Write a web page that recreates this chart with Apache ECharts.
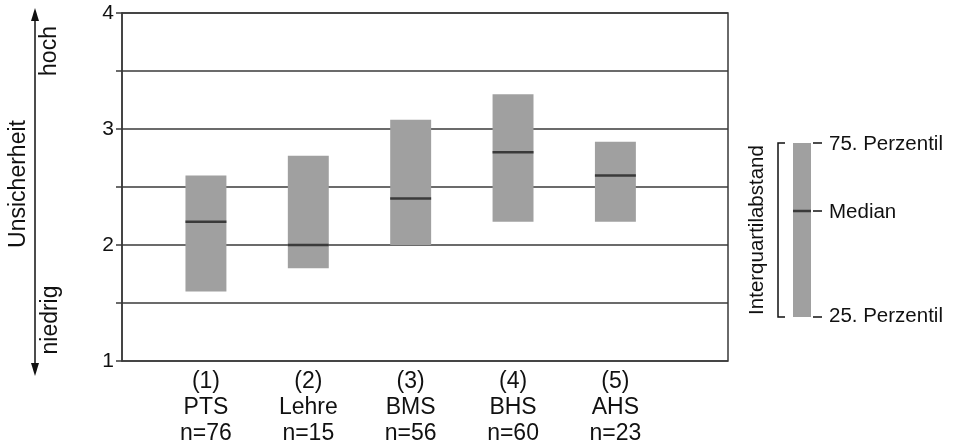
<!DOCTYPE html>
<html><head><meta charset="utf-8">
<script src="https://cdn.jsdelivr.net/npm/echarts@6/dist/echarts.min.js"></script>
<style>html,body{margin:0;padding:0;background:#fff}#c{width:955px;height:448px}</style>
</head><body><div id="c"></div>
<script>
const categories = ['(1)\nPTS\nn=76', '(2)\nLehre\nn=15', '(3)\nBMS\nn=56', '(4)\nBHS\nn=60', '(5)\nAHS\nn=23'];
const q1 = [1.6, 1.8, 2.0, 2.2, 2.2];
const median = [2.2, 2.0, 2.4, 2.8, 2.6];
const q3 = [2.6, 2.77, 3.08, 3.3, 2.89];
const yTicks = [1, 2, 3, 4];

const FONT = '"Liberation Sans", Arial, sans-serif';
const LINE = '#3a3a3a';
const FILL = '#a0a0a0';

const data = categories.map((c, i) => [i + 1, q1[i], median[i], q3[i]]);

const chart = echarts.init(document.getElementById('c'), null, {renderer: 'canvas'});
chart.setOption({
  animation: false,
  grid: {left: 122, right: 227, top: 13, bottom: 87, show: true, borderColor: LINE, borderWidth: 1.5, containLabel: false},
  xAxis: {
    type: 'value', min: 0.18, max: 6.1,
    axisLine: {show: false}, axisTick: {show: false}, splitLine: {show: false},
    axisLabel: {
      customValues: [1, 2, 3, 4, 5],
      formatter: v => categories[Math.round(v) - 1] || '',
      fontFamily: FONT, fontSize: 23, color: '#111', lineHeight: 26, margin: 8
    }
  },
  yAxis: {
    type: 'value', min: 1, max: 4, interval: 0.5,
    axisLine: {show: true, lineStyle: {color: LINE, width: 1.5}},
    axisTick: {show: true, length: 6, lineStyle: {color: LINE, width: 1.5}},
    splitLine: {show: true, lineStyle: {color: LINE, width: 1.5}},
    axisLabel: {
      formatter: v => yTicks.indexOf(v) >= 0 ? String(v) : '',
      fontFamily: FONT, fontSize: 21, color: '#111', margin: 8
    }
  },
  series: [{
    type: 'custom',
    data: data,
    encode: {x: 0, y: [1, 2, 3]},
    renderItem: function (params, api) {
      const x = api.value(0);
      const lo = api.coord([x, api.value(1)]);
      const md = api.coord([x, api.value(2)]);
      const hi = api.coord([x, api.value(3)]);
      const w = api.size([0.4, 0])[0];
      return {
        type: 'group',
        children: [
          {type: 'rect', shape: {x: lo[0] - w / 2, y: hi[1], width: w, height: lo[1] - hi[1]}, style: {fill: FILL}},
          {type: 'line', shape: {x1: md[0] - w / 2, y1: md[1], x2: md[0] + w / 2, y2: md[1]}, style: {stroke: '#3a3a3a', lineWidth: 2.5}}
        ]
      };
    }
  }],
  graphic: [
    // left annotation arrow
    {type: 'line', shape: {x1: 35, y1: 16, x2: 35, y2: 368}, style: {stroke: '#111', lineWidth: 1.5}},
    {type: 'polygon', shape: {points: [[35, 8], [31, 21], [39, 21]]}, style: {fill: '#111'}},
    {type: 'polygon', shape: {points: [[35, 376], [31, 363], [39, 363]]}, style: {fill: '#111'}},
    {type: 'text', x: 19, y: 184, rotation: Math.PI / 2, style: {text: 'Unsicherheit', font: '23px ' + FONT, fill: '#111', align: 'center', verticalAlign: 'middle'}},
    {type: 'text', x: 50, y: 51, rotation: Math.PI / 2, style: {text: 'hoch', font: '23px ' + FONT, fill: '#111', align: 'center', verticalAlign: 'middle'}},
    {type: 'text', x: 51, y: 320, rotation: Math.PI / 2, style: {text: 'niedrig', font: '23px ' + FONT, fill: '#111', align: 'center', verticalAlign: 'middle'}},
    // legend on right
    {type: 'rect', shape: {x: 793, y: 143, width: 18, height: 174}, style: {fill: FILL}},
    {type: 'line', shape: {x1: 793, y1: 211, x2: 811, y2: 211}, style: {stroke: '#3a3a3a', lineWidth: 2.5}},
    {type: 'polyline', shape: {points: [[785, 143], [778, 143], [778, 317], [785, 317]]}, style: {stroke: '#111', lineWidth: 1.5, fill: null}},
    {type: 'line', shape: {x1: 813, y1: 143, x2: 822, y2: 143}, style: {stroke: '#111', lineWidth: 1.5}},
    {type: 'line', shape: {x1: 813, y1: 211, x2: 822, y2: 211}, style: {stroke: '#111', lineWidth: 1.5}},
    {type: 'line', shape: {x1: 813, y1: 317, x2: 822, y2: 317}, style: {stroke: '#111', lineWidth: 1.5}},
    {type: 'text', x: 829, y: 144, style: {text: '75. Perzentil', font: '20.5px ' + FONT, fill: '#111', align: 'left', verticalAlign: 'middle'}},
    {type: 'text', x: 829, y: 212, style: {text: 'Median', font: '20.5px ' + FONT, fill: '#111', align: 'left', verticalAlign: 'middle'}},
    {type: 'text', x: 829, y: 316, style: {text: '25. Perzentil', font: '20.5px ' + FONT, fill: '#111', align: 'left', verticalAlign: 'middle'}},
    {type: 'text', x: 757, y: 230, rotation: Math.PI / 2, style: {text: 'Interquartilabstand', font: '20.5px ' + FONT, fill: '#111', align: 'center', verticalAlign: 'middle'}}
  ]
});
</script></body></html>
